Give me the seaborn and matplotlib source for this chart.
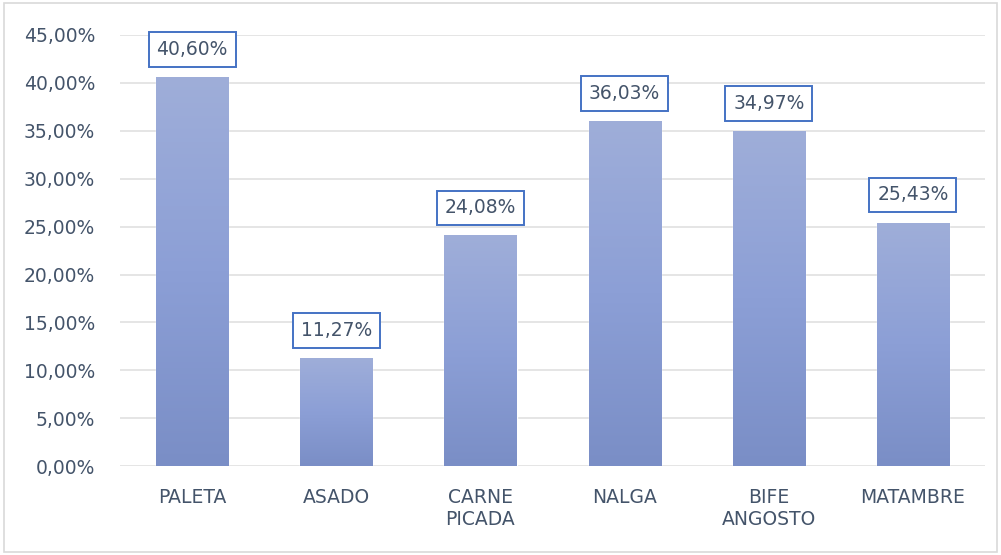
import numpy as np
import pandas as pd
import matplotlib
matplotlib.use('Agg')
import matplotlib.pyplot as plt
import seaborn as sns
from matplotlib.colors import LinearSegmentedColormap
from matplotlib.patches import Rectangle

# data
cortes = ['PALETA', 'ASADO', 'CARNE\nPICADA', 'NALGA', 'BIFE\nANGOSTO', 'MATAMBRE']
porcentajes = [40.60, 11.27, 24.08, 36.03, 34.97, 25.43]
yticks = [0, 5, 10, 15, 20, 25, 30, 35, 40, 45]

df = pd.DataFrame({'corte': cortes, 'pct': porcentajes})

sns.set_style('white')
plt.rcParams['font.family'] = ['DejaVu Sans']
txt_color = '#44546A'

fig = plt.figure(figsize=(10.01, 5.55), dpi=100)
ax = fig.add_axes([0.12, 0.16, 0.864, 0.777])

sns.barplot(df, x='corte', y='pct', ax=ax, width=0.5, color='#8C9FD6', saturation=1, zorder=2)

# gradient fill like the original
cmap = LinearSegmentedColormap.from_list('grad', ['#7A8EC6', '#8C9FD6', '#9FAED9'])
grad = np.linspace(0, 1, 256).reshape(-1, 1)
for bar in ax.patches:
    x0, y0 = bar.get_x(), bar.get_y()
    w, h = bar.get_width(), bar.get_height()
    im = ax.imshow(grad, cmap=cmap, origin='lower', aspect='auto',
                   extent=(x0, x0 + w, y0, y0 + h), zorder=3)
    im.set_clip_path(bar)
    ax.annotate(f'{h:.2f}%'.replace('.', ','), (x0 + w / 2, h),
                xytext=(0, 13), textcoords='offset points', ha='center', va='bottom',
                fontsize=13.5, color=txt_color, zorder=5,
                bbox=dict(boxstyle='square,pad=0.42', fc='white', ec='#4472C4', lw=1.4))

ax.set_xlim(-0.5, 5.5)
ax.set_ylim(0, 45)
ax.set_yticks(yticks)
ax.set_yticklabels([f'{t:.2f}%'.replace('.', ',') for t in yticks])
ax.yaxis.grid(True, color='#E0E0E0', lw=1.2, zorder=0)
ax.set_axisbelow(True)
for s in ax.spines.values():
    s.set_visible(False)
ax.tick_params(axis='both', length=0, labelsize=13.5, labelcolor=txt_color)
ax.tick_params(axis='y', pad=18)
ax.tick_params(axis='x', pad=16)
ax.set_xlabel('')
ax.set_ylabel('')

# outer chart border
fig.patches.append(Rectangle((0.004, 0.006), 0.992, 0.988, transform=fig.transFigure,
                             fill=False, ec='#D9D9D9', lw=1.2))

plt.savefig('out.png', dpi=100)
